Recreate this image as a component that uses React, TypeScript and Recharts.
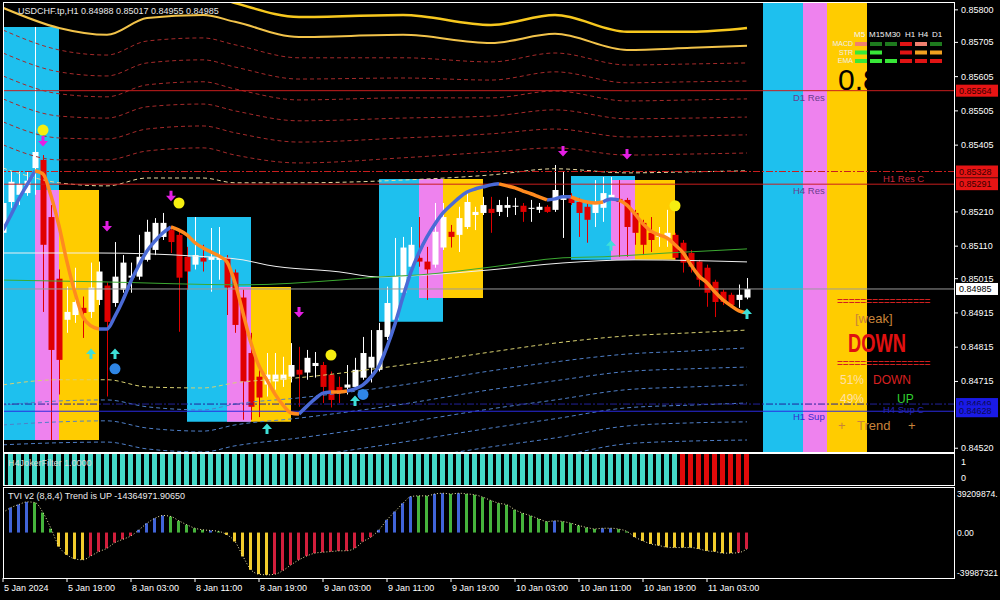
import React from 'react';
import {
  ComposedChart, Bar, Line, Scatter, XAxis, YAxis, ReferenceArea, ReferenceLine, Cell
} from 'recharts';

// H1 candles, index 0 = 5 Jan 11:00
const opens = [
  0.85149, 0.85239, 0.85260, 0.85265, 0.85338, 0.85362, 0.85195, 0.85015, 0.84895, 0.84909,
  0.84930, 0.84918, 0.84953, 0.84995, 0.84944, 0.84983, 0.85018, 0.85021, 0.85070, 0.85099,
  0.85137, 0.85157, 0.85143, 0.85079, 0.85056, 0.85076, 0.85070, 0.85070, 0.85076, 0.85033,
  0.84960, 0.84798, 0.84729, 0.84706, 0.84715, 0.84720, 0.84729, 0.84749, 0.84741, 0.84760,
  0.84763, 0.84735, 0.84699, 0.84697, 0.84699, 0.84726, 0.84755, 0.84749, 0.84845, 0.84895,
  0.84974, 0.85050, 0.85076, 0.85065, 0.85056, 0.85106, 0.85152, 0.85143, 0.85166, 0.85201,
  0.85207, 0.85219, 0.85210, 0.85222, 0.85225, 0.85228, 0.85219, 0.85216, 0.85225, 0.85216,
  0.85245, 0.85251, 0.85239, 0.85225, 0.85207, 0.85222, 0.85251, 0.85248, 0.85245, 0.85207,
  0.85178, 0.85149, 0.85137, 0.85134, 0.85143, 0.85120, 0.85090, 0.85065, 0.85047, 0.85006,
  0.84977, 0.84968, 0.84953, 0.84960,
];
const highs = [
  0.85251, 0.85327, 0.85327, 0.85327, 0.85750, 0.85376, 0.85230, 0.85042, 0.84992, 0.85047,
  0.84963, 0.85062, 0.85065, 0.85004, 0.85122, 0.85084, 0.85062, 0.85143, 0.85187, 0.85192,
  0.85207, 0.85169, 0.85152, 0.85108, 0.85195, 0.85114, 0.85163, 0.85166, 0.85084, 0.85042,
  0.84983, 0.84857, 0.84758, 0.84798, 0.84798, 0.84787, 0.84827, 0.84816, 0.84807, 0.84801,
  0.84772, 0.84744, 0.84729, 0.84763, 0.84784, 0.84845, 0.84865, 0.84886, 0.84992, 0.85134,
  0.85137, 0.85166, 0.85195, 0.85108, 0.85236, 0.85236, 0.85172, 0.85225, 0.85265, 0.85225,
  0.85254, 0.85254, 0.85245, 0.85254, 0.85251, 0.85236, 0.85245, 0.85236, 0.85230, 0.85347,
  0.85327, 0.85265, 0.85251, 0.85236, 0.85303, 0.85312, 0.85312, 0.85303, 0.85251, 0.85216,
  0.85187, 0.85195, 0.85166, 0.85216, 0.85149, 0.85128, 0.85099, 0.85070, 0.85056, 0.85012,
  0.84983, 0.84974, 0.84998, 0.85017,
];
const lows = [
  0.85122, 0.85222, 0.85230, 0.85257, 0.85260, 0.84918, 0.84544, 0.84677, 0.84857, 0.84886,
  0.84842, 0.84900, 0.84938, 0.84671, 0.84933, 0.84974, 0.84974, 0.85012, 0.85065, 0.85084,
  0.85128, 0.85090, 0.84860, 0.84983, 0.85042, 0.85036, 0.84977, 0.85012, 0.84909, 0.84857,
  0.84603, 0.84603, 0.84611, 0.84671, 0.84691, 0.84699, 0.84712, 0.84641, 0.84720, 0.84726,
  0.84652, 0.84639, 0.84652, 0.84677, 0.84691, 0.84720, 0.84712, 0.84744, 0.84836, 0.84889,
  0.84966, 0.85042, 0.85050, 0.84953, 0.85047, 0.85099, 0.85106, 0.85093, 0.85160, 0.85157,
  0.85201, 0.85149, 0.85198, 0.85195, 0.85201, 0.85181, 0.85181, 0.85207, 0.85207, 0.85210,
  0.85134, 0.85230, 0.85137, 0.85120, 0.85166, 0.85181, 0.85245, 0.85079, 0.85079, 0.85114,
  0.85084, 0.85093, 0.85108, 0.85108, 0.85070, 0.85033, 0.85033, 0.84992, 0.84933, 0.84903,
  0.84938, 0.84930, 0.84930, 0.84955,
];
const closes = [
  0.85236, 0.85298, 0.85292, 0.85301, 0.85385, 0.85114, 0.84807, 0.84778, 0.84918, 0.84947,
  0.84915, 0.84989, 0.85036, 0.84889, 0.85021, 0.85062, 0.85024, 0.85079, 0.85152, 0.85178,
  0.85178, 0.85122, 0.85018, 0.85036, 0.85084, 0.85065, 0.85079, 0.85079, 0.84989, 0.84880,
  0.84715, 0.84641, 0.84668, 0.84735, 0.84735, 0.84735, 0.84763, 0.84735, 0.84784, 0.84769,
  0.84699, 0.84661, 0.84682, 0.84706, 0.84749, 0.84798, 0.84787, 0.84865, 0.84944, 0.85021,
  0.85106, 0.85114, 0.85065, 0.85042, 0.85152, 0.85195, 0.85137, 0.85192, 0.85239, 0.85210,
  0.85230, 0.85207, 0.85230, 0.85230, 0.85228, 0.85210, 0.85222, 0.85225, 0.85210, 0.85274,
  0.85251, 0.85236, 0.85207, 0.85187, 0.85236, 0.85265, 0.85260, 0.85239, 0.85166, 0.85149,
  0.85114, 0.85128, 0.85143, 0.85149, 0.85076, 0.85062, 0.85050, 0.85012, 0.84974, 0.84947,
  0.84947, 0.84938, 0.84968, 0.84985,
];

// smoothed trend line, orange where falling
const hma = [
  0.85157, 0.85201, 0.85248, 0.85289, 0.85330, 0.85321, 0.85257, 0.85169, 0.85064, 0.84974,
  0.84903, 0.84877, 0.84868, 0.84868, 0.84906, 0.84953, 0.85008, 0.85055, 0.85096, 0.85125,
  0.85149, 0.85166, 0.85157, 0.85143, 0.85120, 0.85105, 0.85093, 0.85081, 0.85064, 0.85003,
  0.84915, 0.84827, 0.84760, 0.84719, 0.84678, 0.84646, 0.84623, 0.84620, 0.84643, 0.84664,
  0.84681, 0.84684, 0.84684, 0.84687, 0.84693, 0.84705, 0.84728, 0.84760, 0.84816, 0.84883,
  0.84962, 0.85035, 0.85091, 0.85137, 0.85175, 0.85207, 0.85230, 0.85251, 0.85268, 0.85277,
  0.85283, 0.85289, 0.85292, 0.85286, 0.85280, 0.85271, 0.85263, 0.85254, 0.85245, 0.85248,
  0.85254, 0.85254, 0.85245, 0.85239, 0.85236, 0.85239, 0.85248, 0.85245, 0.85230, 0.85204,
  0.85175, 0.85154, 0.85143, 0.85134, 0.85114, 0.85091, 0.85055, 0.85023, 0.85003, 0.84976,
  0.84953, 0.84936, 0.84921, 0.84915,
];
const hmaDownRanges = [[4, 12], [21, 37], [41, 43], [62, 68], [71, 75], [77, 93]];

// envelope bands, sampled at these bar indices
const bandIdx = [0, 7, 13, 18, 25, 29, 37, 50, 61, 69, 78, 86, 93];
const bandGold1 = [0.85864, 0.85858, 0.85847, 0.85844, 0.85847, 0.85820, 0.85779, 0.85785, 0.85756, 0.85785, 0.85736, 0.85736, 0.85747];
const bandGold2 = [0.85806, 0.85747, 0.85727, 0.85776, 0.85785, 0.85765, 0.85721, 0.85727, 0.85703, 0.85730, 0.85683, 0.85689, 0.85695];
const bandRed1 = [0.85741, 0.85683, 0.85668, 0.85709, 0.85718, 0.85698, 0.85660, 0.85660, 0.85648, 0.85674, 0.85639, 0.85642, 0.85645];
const bandRed2 = [0.85674, 0.85619, 0.85607, 0.85645, 0.85654, 0.85633, 0.85598, 0.85601, 0.85595, 0.85619, 0.85587, 0.85590, 0.85592];
const bandRed3 = [0.85607, 0.85555, 0.85546, 0.85581, 0.85590, 0.85569, 0.85537, 0.85543, 0.85543, 0.85563, 0.85534, 0.85537, 0.85540];
const bandRed4 = [0.85540, 0.85490, 0.85484, 0.85517, 0.85525, 0.85505, 0.85476, 0.85484, 0.85490, 0.85508, 0.85482, 0.85484, 0.85487];
const bandRed5 = [0.85473, 0.85426, 0.85423, 0.85452, 0.85461, 0.85441, 0.85414, 0.85426, 0.85438, 0.85452, 0.85429, 0.85432, 0.85435];
const bandRed6 = [0.85406, 0.85362, 0.85362, 0.85388, 0.85397, 0.85376, 0.85353, 0.85368, 0.85385, 0.85397, 0.85376, 0.85379, 0.85382];
const bandUpperInner = [0.85338, 0.85295, 0.85286, 0.85309, 0.85309, 0.85295, 0.85295, 0.85303, 0.85318, 0.85336, 0.85324, 0.85327, 0.85330];
const bandLowerInner = [0.84705, 0.84720, 0.84720, 0.84699, 0.84696, 0.84711, 0.84726, 0.84763, 0.84801, 0.84827, 0.84848, 0.84857, 0.84865];
const bandBlue1 = [0.84646, 0.84658, 0.84661, 0.84641, 0.84632, 0.84649, 0.84667, 0.84705, 0.84746, 0.84772, 0.84795, 0.84804, 0.84813];
const bandBlue2 = [0.84588, 0.84597, 0.84600, 0.84579, 0.84570, 0.84588, 0.84608, 0.84649, 0.84691, 0.84717, 0.84744, 0.84752, 0.84757];
const bandBlue3 = [0.84530, 0.84536, 0.84538, 0.84518, 0.84509, 0.84527, 0.84550, 0.84594, 0.84635, 0.84661, 0.84691, 0.84699, 0.84705];
const bandBlue4 = [0.84471, 0.84474, 0.84477, 0.84457, 0.84448, 0.84465, 0.84492, 0.84538, 0.84579, 0.84606, 0.84638, 0.84646, 0.84652];
const bandBlue5 = [0.84413, 0.84413, 0.84416, 0.84395, 0.84387, 0.84404, 0.84433, 0.84483, 0.84524, 0.84550, 0.84585, 0.84594, 0.84597];
const bandBlue6 = [0.84354, 0.84351, 0.84354, 0.84334, 0.84325, 0.84343, 0.84375, 0.84427, 0.84468, 0.84495, 0.84533, 0.84541, 0.84544];

const whiteMaIdx = [0, 12, 24, 30, 33, 42, 47, 53, 61, 70, 79, 93];
const whiteMa = [0.85090, 0.85090, 0.85081, 0.85070, 0.85055, 0.85035, 0.85020, 0.85026, 0.85041, 0.85061, 0.85070, 0.85064];
const greenMaIdx = [0, 12, 30, 42, 47, 52, 61, 70, 75, 83, 93];
const greenMa = [0.85011, 0.85006, 0.84997, 0.85011, 0.85020, 0.85026, 0.85049, 0.85076, 0.85079, 0.85090, 0.85102];

// signal markers [bar, price]
const sellArrows = [[5, 0.85414], [13, 0.85166], [21, 0.85254], [37, 0.84915], [70, 0.85385], [78, 0.85376]];
const buyArrows = [[11, 0.84798], [14, 0.84798], [33, 0.84579], [44, 0.84661], [76, 0.85114], [93, 0.84915]];
const yellowDots = [[5, 0.85449], [22, 0.85236], [41, 0.84792], [84, 0.85228]];
const blueDots = [[14, 0.84752], [45, 0.84677]];

// zone boxes [x1, x2, yLow, yHigh]
const cyanZones = [[0, 7, 0.84544, 0.85750], [23, 31, 0.84597, 0.85195], [47, 55, 0.84889, 0.85306], [71, 79, 0.85070, 0.85315]];
const pinkZones = [[4, 7, 0.84544, 0.85274], [28, 31, 0.84597, 0.84991], [52, 55, 0.84959, 0.85306], [76, 79, 0.85070, 0.85303]];
const goldZones = [[7, 12, 0.84544, 0.85274], [31, 36, 0.84597, 0.84991], [55, 60, 0.84959, 0.85306], [79, 84, 0.85070, 0.85303]];

const priceTicks = [0.858, 0.85705, 0.85605, 0.85505, 0.85405, 0.8521, 0.8511, 0.85015, 0.84915, 0.84815, 0.84715, 0.8452];

const timeTickIdx = [0, 8, 16, 24, 32, 40, 48, 56, 64, 72, 80, 88];
const timeLabels = ['5 Jan 2024', '5 Jan 19:00', '8 Jan 03:00', '8 Jan 11:00', '8 Jan 19:00', '9 Jan 03:00',
  '9 Jan 11:00', '9 Jan 19:00', '10 Jan 03:00', '10 Jan 11:00', '10 Jan 19:00', '11 Jan 03:00'];

const tviValues = [
  17600000, 22000000, 24700000, 27000000, 26400000, 17600000, 3500000, -12300000, -19600000, -23200000,
  -24000000, -20500000, -16700000, -13800000, -8800000, -5900000, -2900000, 2400000, 8200000, 12600000,
  15000000, 14100000, 10300000, 6800000, 3800000, 2400000, 1800000, 1000000, -2000000, -7900000,
  -21000000, -32800000, -36600000, -37200000, -36600000, -33400000, -28400000, -24000000, -20500000, -18100000,
  -17300000, -16700000, -16100000, -16000000, -13700000, -7900000, -4000000, 2400000, 11200000, 18500000,
  25800000, 31700000, 32300000, 32300000, 34000000, 34600000, 34000000, 34600000, 34000000, 33200000,
  31100000, 28200000, 25800000, 24400000, 20000000, 17000000, 14700000, 12000000, 9700000, 10300000,
  9700000, 8200000, 6200000, 4400000, 3200000, 3800000, 3800000, 3000000, 1000000, -4000000,
  -7300000, -10000000, -11400000, -12900000, -13200000, -13200000, -13200000, -14400000, -16100000, -16700000,
  -18100000, -18100000, -17600000, -14364972,
];
const tviColorCodes = 'bbbbgggyyyyrrrrrrbbbbgggggbgyyyyyyrrrrrrrrrrrrrbbbbbggbbgbgggggggggggbgggggbbggyyyyyyyyyyyyyrr';
const jokerCodes = 'uuuuuuuuuuuuuuuuuuuuuuuuuuuuuuuuuuuuuuuuuuuuuuuuuuuuuuuuuuuuuuuuuuuuuuuuuuuuuuuuuuuuudddddddddd'.slice(0, 94);

const TVI_MAX = 39209874;
const TVI_MIN = -39987321;

const CYAN = '#1ec0ee';
const PINK = '#ee82ee';
const GOLD = '#ffcc00';
const X_DOMAIN = [0, 119];
const P_DOMAIN = [0.84509, 0.8582];
const FONT = '"Liberation Sans", Arial, sans-serif';

const mainData = opens.map((o, i) => {
  const down = hmaDownRanges.some(([a, b]) => i >= a && i <= b);
  const inner = hmaDownRanges.some(([a, b]) => i > a && i < b);
  return {
    i, o, h: highs[i], l: lows[i], c: closes[i],
    range: [lows[i], highs[i]],
    hmaO: down ? hma[i] : null,
    hmaB: inner ? null : hma[i],
  };
});

const toSeries = (idx: number[], vals: number[]) => idx.map((i, k) => ({ i, v: vals[k] }));
const toPoints = (pts: number[][]) => pts.map(([i, p]) => ({ i, p }));

const bands = [
  { key: 'g1', vals: bandGold1, color: '#f7c81e', w: 2.5, dash: undefined },
  { key: 'g2', vals: bandGold2, color: '#f2c34a', w: 2, dash: undefined },
  { key: 'r1', vals: bandRed1, color: '#a52a2a', w: 1, dash: '4 3' },
  { key: 'r2', vals: bandRed2, color: '#a52a2a', w: 1, dash: '4 3' },
  { key: 'r3', vals: bandRed3, color: '#a52a2a', w: 1, dash: '4 3' },
  { key: 'r4', vals: bandRed4, color: '#a52a2a', w: 1, dash: '4 3' },
  { key: 'r5', vals: bandRed5, color: '#a52a2a', w: 1, dash: '4 3' },
  { key: 'r6', vals: bandRed6, color: '#a52a2a', w: 1, dash: '4 3' },
  { key: 'ui', vals: bandUpperInner, color: '#e6d8a0', w: 1, dash: '4 3' },
  { key: 'li', vals: bandLowerInner, color: '#d8d070', w: 1, dash: '4 3' },
  { key: 'b1', vals: bandBlue1, color: '#4f7fc8', w: 1, dash: '4 3' },
  { key: 'b2', vals: bandBlue2, color: '#4f7fc8', w: 1, dash: '4 3' },
  { key: 'b3', vals: bandBlue3, color: '#4f7fc8', w: 1, dash: '4 3' },
  { key: 'b4', vals: bandBlue4, color: '#4f7fc8', w: 1, dash: '4 3' },
  { key: 'b5', vals: bandBlue5, color: '#4f7fc8', w: 1, dash: '4 3' },
  { key: 'b6', vals: bandBlue6, color: '#4f7fc8', w: 1, dash: '4 3' },
];

const tviPalette: Record<string, string> = { b: '#4164d8', g: '#46b43c', y: '#f2cc2c', r: '#d21e3c' };
const tviData = tviValues.map((v, i) => ({ i, v, color: tviPalette[tviColorCodes[i]] }));
const jokerData = jokerCodes.split('').map((c, i) => ({ i, v: 1, color: c === 'u' ? '#44d8c8' : '#e00a0a' }));

const Candle = (props: any) => {
  const { x, y, width, height, payload } = props;
  if (x == null || !payload) return null;
  const { o, h, l, c } = payload;
  const color = c >= o ? '#ffffff' : '#e00000';
  const k = height / (h - l);
  const top = y + (h - Math.max(o, c)) * k;
  const bot = y + (h - Math.min(o, c)) * k;
  const cx = Math.round(x + width / 2) + 0.5;
  return (
    <g>
      <line x1={cx} x2={cx} y1={y} y2={y + height} stroke={color} strokeWidth={1} />
      <rect x={cx - 3} y={top} width={6} height={Math.max(1, bot - top)} fill={color} />
    </g>
  );
};

const ArrowDown = (p: any) => (
  <path d={`M${p.cx - 1.5},${p.cy - 6} h3 v5 h3.5 l-5,5.5 l-5,-5.5 h3.5 z`} fill="#e41ee4" />
);
const ArrowUp = (p: any) => (
  <path d={`M${p.cx - 1.5},${p.cy + 6} h3 v-5 h3.5 l-5,-5.5 l-5,5.5 h3.5 z`} fill="#3ee0d8" />
);
const YellowDot = (p: any) => <circle cx={p.cx} cy={p.cy} r={5.5} fill="#f6ee10" />;
const BlueDot = (p: any) => <circle cx={p.cx} cy={p.cy} r={5.5} fill="#2f86e6" />;

const PriceTick = (props: any) => {
  const { y, payload } = props;
  return (
    <g>
      <line x1={955} x2={958} y1={y} y2={y} stroke="#fff" />
      <text x={961} y={y + 3} fill="#fff" fontSize={9} fontFamily={FONT}>{payload.value.toFixed(5)}</text>
    </g>
  );
};

const PriceTag = (props: any) => {
  const { viewBox, fill, color, text, shift = 0 } = props;
  if (!viewBox) return null;
  const yy = viewBox.y + shift;
  return (
    <g>
      <rect x={956} y={yy - 6} width={42} height={12} fill={fill} />
      <text x={959} y={yy + 3} fill={color} fontSize={9} fontFamily={FONT}>{text}</text>
    </g>
  );
};

const JokerTick = (props: any) => {
  const { y, payload } = props;
  return (
    <text x={961} y={payload.value === 1 ? y + 11 : y - 4} fill="#fff" fontSize={9} fontFamily={FONT}>
      {payload.value}
    </text>
  );
};

const tviTickLabels: Record<number, string> = { [TVI_MAX]: '39209874.', 0: '0.00', [TVI_MIN]: '-39987321' };
const TviTick = (props: any) => {
  const { y, payload } = props;
  const v = payload.value;
  const dy = v === TVI_MAX ? 9 : v === TVI_MIN ? -2 : 3;
  return <text x={957} y={y + dy} fill="#fff" fontSize={8.6} fontFamily={FONT}>{tviTickLabels[v]}</text>;
};

const TimeTick = (props: any) => {
  const { x, y, payload } = props;
  const k = timeTickIdx.indexOf(payload.value);
  return <text x={x + 1} y={y + 7} fill="#fff" fontSize={9} fontFamily={FONT}>{timeLabels[k]}</text>;
};

const frame = (top: number, height: number): React.CSSProperties => ({
  position: 'absolute', left: 3, top, width: 952, height, border: '1px solid #fff', boxSizing: 'border-box', pointerEvents: 'none',
});

const dashCols = ['M5', 'M15', 'M30', 'H1', 'H4', 'D1'];
const dashColX = [854, 869, 885, 905, 918, 932];
const dashRows = ['MACD', 'STR', 'EMA'];
const dashColors = [
  ['#f08070', '#1e7a1e', '#1e7a1e', '#e01414', '#f08070', '#1e7a1e'],
  ['#38e838', '#38e838', null, '#e01414', '#f0a020', '#f0a020'],
  ['#38e838', '#38e838', '#38e838', '#e01414', '#e01414', '#e01414'],
];

export default function App() {
  return (
    <div style={{ position: 'fixed', left: 0, top: 0, width: 1000, height: 600, background: '#000', overflow: 'hidden', fontFamily: FONT }}>
      <div style={{ position: 'absolute', left: 0, top: 0 }}>
        <ComposedChart width={1000} height={455} data={mainData} margin={{ top: 3, right: 0, bottom: 3, left: 3 }}>
          <XAxis type="number" dataKey="i" domain={X_DOMAIN} hide allowDataOverflow />
          <YAxis orientation="right" width={45} domain={P_DOMAIN} allowDataOverflow ticks={priceTicks}
            tick={<PriceTick />} axisLine={false} tickLine={false} interval={0} />

          {cyanZones.map(([a, b, lo, hi], k) => (
            <ReferenceArea key={'c' + k} x1={a} x2={b} y1={lo} y2={hi} fill={CYAN} fillOpacity={1} stroke="none" />
          ))}
          {pinkZones.map(([a, b, lo, hi], k) => (
            <ReferenceArea key={'p' + k} x1={a} x2={b} y1={lo} y2={hi} fill={PINK} fillOpacity={1} stroke="none" />
          ))}
          {goldZones.map(([a, b, lo, hi], k) => (
            <ReferenceArea key={'y' + k} x1={a} x2={b} y1={lo} y2={hi} fill={GOLD} fillOpacity={1} stroke="none" />
          ))}
          <ReferenceArea x1={95} x2={100} fill={CYAN} fillOpacity={1} stroke="none" />
          <ReferenceArea x1={100} x2={103} fill={PINK} fillOpacity={1} stroke="none" />
          <ReferenceArea x1={103} x2={108} fill={GOLD} fillOpacity={1} stroke="none" />

          {bands.map(b => (
            <Line key={b.key} data={toSeries(bandIdx, b.vals)} dataKey="v" type="monotone" stroke={b.color}
              strokeWidth={b.w} strokeDasharray={b.dash} dot={false} isAnimationActive={false} />
          ))}
          <Line data={toSeries(whiteMaIdx, whiteMa)} dataKey="v" type="monotone" stroke="#f0f0f0" strokeWidth={1} dot={false} isAnimationActive={false} />
          <Line data={toSeries(greenMaIdx, greenMa)} dataKey="v" type="monotone" stroke="#3caa32" strokeWidth={1} dot={false} isAnimationActive={false} />

          <ReferenceLine y={0.85564} stroke="#c81e1e" label={<PriceTag fill="#e61414" color="#3a0000" text="0.85564" />} />
          <ReferenceLine y={0.85328} stroke="#c81e1e" strokeDasharray="7 2 2 2" label={<PriceTag fill="#e61414" color="#3a0000" text="0.85328" />} />
          <ReferenceLine y={0.85291} stroke="#c81e1e" label={<PriceTag fill="#e61414" color="#3a0000" text="0.85291" />} />
          <ReferenceLine y={0.84985} stroke="#9a9a9a" label={<PriceTag fill="#ffffff" color="#000000" text="0.84985" />} />
          <ReferenceLine y={0.84649} stroke="#22229a" strokeDasharray="7 2 2 2" label={<PriceTag fill="#1a1ae6" color="#0a0a50" text="0.84649" />} />
          <ReferenceLine y={0.84628} stroke="#2a2ae0" label={<PriceTag fill="#1a1ae6" color="#0a0a50" text="0.84628" />} />

          <Bar dataKey="range" barSize={6} shape={<Candle />} isAnimationActive={false} />

          <Line dataKey="hmaB" type="monotone" stroke="#4a6ad6" strokeWidth={3.5} dot={false} connectNulls={false} isAnimationActive={false} />
          <Line dataKey="hmaO" type="monotone" stroke="#ff8a1e" strokeWidth={3.5} dot={false} connectNulls={false} isAnimationActive={false} />

          <Scatter data={toPoints(sellArrows)} dataKey="p" shape={ArrowDown} isAnimationActive={false} />
          <Scatter data={toPoints(buyArrows)} dataKey="p" shape={ArrowUp} isAnimationActive={false} />
          <Scatter data={toPoints(yellowDots)} dataKey="p" shape={YellowDot} isAnimationActive={false} />
          <Scatter data={toPoints(blueDots)} dataKey="p" shape={BlueDot} isAnimationActive={false} />
        </ComposedChart>
      </div>

      <div style={{ position: 'absolute', left: 0, top: 454 }}>
        <ComposedChart width={1000} height={31} data={jokerData} margin={{ top: 0, right: 0, bottom: 0, left: 3 }}>
          <XAxis type="number" dataKey="i" domain={X_DOMAIN} hide allowDataOverflow />
          <YAxis orientation="right" width={45} domain={[0, 1]} ticks={[0, 1]} tick={<JokerTick />} axisLine={false} tickLine={false} interval={0} />
          <Bar dataKey="v" barSize={5} isAnimationActive={false}>
            {jokerData.map(d => <Cell key={d.i} fill={d.color} />)}
          </Bar>
        </ComposedChart>
      </div>

      <div style={{ position: 'absolute', left: 0, top: 488 }}>
        <ComposedChart width={1000} height={112} data={tviData} margin={{ top: 0, right: 0, bottom: 0, left: 3 }}>
          <XAxis type="number" dataKey="i" domain={X_DOMAIN} allowDataOverflow ticks={timeTickIdx} interval={0}
            tick={<TimeTick />} tickLine={{ stroke: '#fff' }} tickSize={4} axisLine={false} height={22} />
          <YAxis orientation="right" width={45} domain={[TVI_MIN, TVI_MAX]} ticks={[TVI_MAX, 0, TVI_MIN]}
            tick={<TviTick />} axisLine={false} tickLine={false} interval={0} />
          <Bar dataKey="v" barSize={3} isAnimationActive={false}>
            {tviData.map(d => <Cell key={d.i} fill={d.color} />)}
          </Bar>
          <Line dataKey="v" type="monotone" stroke="#efe6a8" strokeWidth={1} strokeDasharray="1 2" dot={false} isAnimationActive={false} />
        </ComposedChart>
      </div>

      <div style={frame(2, 451)} />
      <div style={frame(453, 33)} />
      <div style={frame(487, 92)} />

      <svg width={1000} height={600} style={{ position: 'absolute', left: 0, top: 0, pointerEvents: 'none' }} fontFamily={FONT}>
        <text x={18} y={14} fill="#e8e8e8" fontSize={9}>USDCHF.tp,H1  0.84988 0.85017 0.84955 0.84985</text>
        <text x={8} y={466} fill="#d8d8d8" fontSize={9}>H4JokerFilter 1.0000</text>
        <text x={8} y={499} fill="#ececec" fontSize={9}>TVI v2 (8,8,4) Trend is UP -14364971.90650</text>

        <text x={793} y={101} fill="#6a3c8c" fontSize={9.5}>D1 Res</text>
        <text x={793} y={194} fill="#6a3c8c" fontSize={9.5}>H4 Res</text>
        <text x={883} y={182} fill="#c8283c" fontSize={9.5}>H1 Res C</text>
        <text x={793} y={420} fill="#3a2ad0" fontSize={9.5}>H1 Sup</text>
        <text x={883} y={413} fill="#2424b8" fontSize={9.5}>H4 Sup C</text>

        {dashCols.map((c, k) => (
          <text key={c} x={dashColX[k]} y={37} fill="#f4f4f4" fontSize={8}>{c}</text>
        ))}
        {dashRows.map((r, row) => (
          <text key={r} x={853} y={46 + row * 8.5} fill="#eeeeee" fontSize={7} textAnchor="end">{r}</text>
        ))}
        {dashColors.map((rowCols, row) => rowCols.map((col, k) => col ? (
          <rect key={row + '-' + k} x={855 + k * 15} y={42 + row * 8.5} width={12} height={4} fill={col} />
        ) : null))}
        <text x={838} y={90} fill="#000" fontSize={30}>0.84985</text>

        <text x={837} y={305} fill="#d02020" fontSize={10}>================</text>
        <text x={855} y={323} fill="#c8843a" fontSize={13}>[weak]</text>
        <text x={848} y={352} fill="#e01010" fontSize={26} fontWeight="bold" textLength={58} lengthAdjust="spacingAndGlyphs">DOWN</text>
        <text x={837} y={367} fill="#d02020" fontSize={10}>================</text>
        <text x={840} y={384} fill="#ffe0a8" fontSize={12}>51%</text>
        <text x={873} y={384} fill="#d82020" fontSize={12}>DOWN</text>
        <text x={840} y={403} fill="#ffe0a8" fontSize={12}>49%</text>
        <text x={897} y={403} fill="#30d030" fontSize={12}>UP</text>
        <text x={838} y={430} fill="#c8843a" fontSize={13}>+</text>
        <text x={857} y={430} fill="#c8843a" fontSize={13}>Trend</text>
        <text x={908} y={430} fill="#c8843a" fontSize={13}>+</text>
      </svg>
    </div>
  );
}
